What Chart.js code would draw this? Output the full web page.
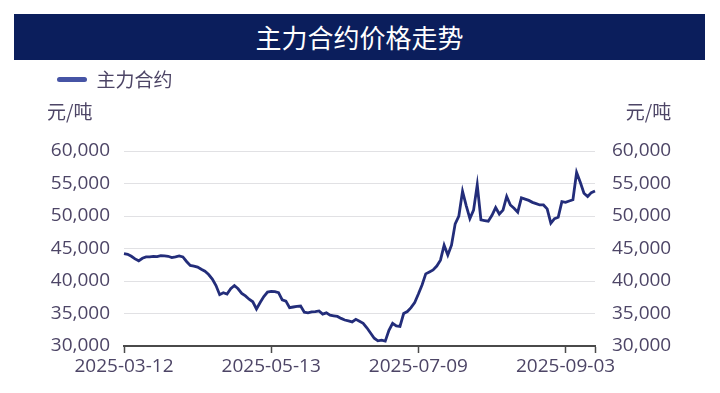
<!DOCTYPE html>
<html>
<head>
<meta charset="utf-8">
<script src="https://cdn.jsdelivr.net/npm/chart.js@4.4.1/dist/chart.umd.min.js"></script>
<style>
  html, body { margin: 0; padding: 0; background: #fff; }
  #wrap { position: relative; width: 720px; height: 393px; }
  #banner {
    position: absolute; left: 14px; top: 14px; width: 691px; height: 46px;
    background: #0b1e5c; color: #fff; text-align: center;
    font: 26px "Noto Sans CJK SC", sans-serif; line-height: 46px;
  }
  canvas { position: absolute; left: 0; top: 0; }
</style>
</head>
<body>
<div id="wrap">
  <canvas id="priceChart" width="720" height="393"></canvas>
  <div id="banner">主力合约价格走势</div>
</div>
<script>
const seriesName = "主力合约";
const unitLabel = "元/吨";
const firstDay = "2025-03-12";
const holidays = ["2025-04-04", "2025-05-01", "2025-05-02", "2025-05-05", "2025-06-02"];
const tickLabels = ["2025-03-12", "2025-05-13", "2025-07-09", "2025-09-03"];
const prices = [
  44200, 44100, 43800, 43400, 43100, 43500, 43700, 43700, 43800, 43750,
  43900, 43850, 43800, 43600, 43700, 43850, 43700, 43000, 42400, 42300,
  42150, 41800, 41500, 41000, 40300, 39300, 37900, 38200, 38000, 38800,
  39300, 38800, 38100, 37700, 37200, 36800, 35700, 36700, 37600, 38300,
  38400, 38350, 38200, 37100, 36900, 35900, 36000, 36100, 36150, 35200,
  35100, 35250, 35300, 35400, 34900, 35100, 34750, 34650, 34550, 34250,
  34000, 33850, 33700, 34100, 33800, 33500, 32800, 32000, 31200, 30800,
  30900, 30750, 32400, 33500, 33100, 33000, 35000, 35300, 35900, 36700,
  38000, 39400, 41100, 41400, 41700, 42300, 43200, 45500, 44000, 45500,
  48800, 50000, 53800, 51600, 49600, 50900, 54800, 49400, 49300, 49200,
  50100, 51300, 50300, 50900, 53000, 51700, 51200, 50600, 52800, 52600,
  52400, 52100, 51900, 51700, 51700, 51100, 48900, 49600, 49800, 52200,
  52100, 52300, 52500, 56700, 55200, 53500, 53000, 53600, 53850
];

// trading days (weekends and holidays skipped)
function tradingDays(start, count) {
  const out = [];
  const d = new Date(start + "T00:00:00Z");
  while (out.length < count) {
    const s = d.toISOString().slice(0, 10);
    const wd = d.getUTCDay();
    if (wd !== 0 && wd !== 6 && !holidays.includes(s)) out.push(s);
    d.setUTCDate(d.getUTCDate() + 1);
  }
  return out;
}
const dates = tradingDays(firstDay, prices.length);

const textColor = "#4d4566";
const numFont = { family: "'Open Sans', 'Noto Sans CJK SC', sans-serif", size: 19 };
const cjkFont = "19px 'Noto Sans CJK SC', sans-serif";

const unitPlugin = {
  id: "units",
  beforeInit(chart) {
    const fit = chart.legend.fit;
    chart.legend.fit = function () {
      fit.bind(chart.legend)();
      this.height = 91;
    };
  },
  afterDraw(chart) {
    const ctx = chart.ctx;
    const yl = chart.scales.y, yr = chart.scales.y1;
    ctx.save();
    ctx.font = cjkFont;
    ctx.fillStyle = textColor;
    ctx.textBaseline = "middle";
    ctx.textAlign = "left";
    ctx.fillText(unitLabel, yl.left, chart.chartArea.top - 39);
    ctx.font = numFont.size + "px " + numFont.family;
    const w = ctx.measureText("60,000").width;
    ctx.font = cjkFont;
    ctx.textAlign = "right";
    ctx.fillText(unitLabel, yr.left + 17 + w, chart.chartArea.top - 39);
    ctx.restore();
  }
};

const ctx = document.getElementById("priceChart").getContext("2d");
new Chart(ctx, {
  type: "line",
  data: {
    labels: dates,
    datasets: [{
      label: seriesName,
      data: prices,
      borderColor: "#232d7a",
      backgroundColor: "#232d7a",
      borderWidth: 2.8,
      pointRadius: 0,
      tension: 0,
      yAxisID: "y"
    }]
  },
  options: {
    responsive: false,
    animation: false,
    layout: { padding: { top: 60, left: 47, right: 0, bottom: 0 } },
    plugins: {
      tooltip: { enabled: false },
      legend: {
        align: "start",
        labels: {
          boxWidth: 30,
          boxHeight: 5,
          useBorderRadius: true,
          borderRadius: 2.5,
          color: textColor,
          font: { family: "'Noto Sans CJK SC', sans-serif", size: 19 },
          generateLabels(chart) {
            const items = Chart.defaults.plugins.legend.labels.generateLabels(chart);
            items.forEach(it => { it.fillStyle = "#4654a5"; it.strokeStyle = "#4654a5"; it.lineWidth = 0; });
            return items;
          }
        }
      }
    },
    scales: {
      x: {
        type: "category",
        afterBuildTicks(scale) {
          const idx = tickLabels.map(t => dates.indexOf(t));
          idx.push(dates.length - 1);
          scale.ticks = idx.map(v => ({ value: v }));
        },
        afterFit(scale) { scale.height = 47; },
        ticks: {
          autoSkip: false,
          maxRotation: 0,
          padding: 2,
          color: textColor,
          font: numFont,
          callback(v) { return tickLabels.includes(dates[v]) ? dates[v] : ""; }
        },
        grid: { drawOnChartArea: false, tickLength: 7, tickColor: "#4a4a4a", tickWidth: 1.5 },
        border: { color: "#4a4a4a", width: 2 }
      },
      y: {
        position: "left",
        min: 30000, max: 60000,
        afterFit(scale) { scale.width = 77; },
        ticks: {
          stepSize: 5000, padding: 14, color: textColor, font: numFont,
          callback: v => v.toLocaleString("en-US")
        },
        grid: { color: "#e1e1e4", lineWidth: 1, drawTicks: false },
        border: { display: false }
      },
      y1: {
        position: "right",
        min: 30000, max: 60000,
        afterFit(scale) { scale.width = 125; },
        ticks: {
          stepSize: 5000, padding: 17, color: textColor, font: numFont,
          callback: v => v.toLocaleString("en-US")
        },
        grid: { drawOnChartArea: false, drawTicks: false },
        border: { display: false }
      }
    }
  },
  plugins: [unitPlugin]
});
</script>
</body>
</html>
